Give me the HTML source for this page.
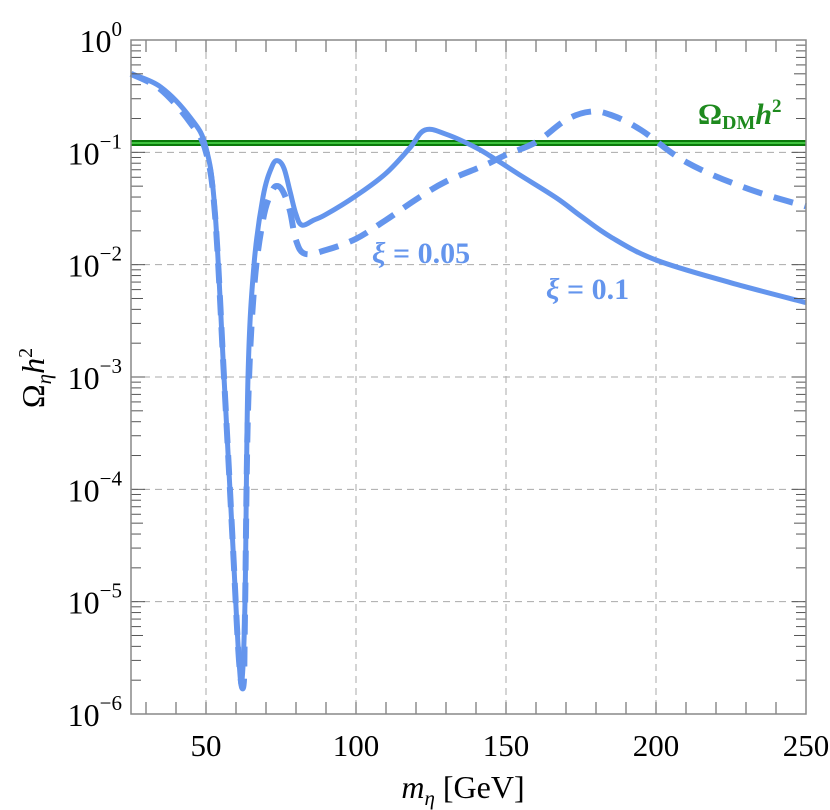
<!DOCTYPE html>
<html><head><meta charset="utf-8"><style>
body{margin:0;background:#fff}
svg{display:block}
text{font-family:"Liberation Serif","DejaVu Serif",serif}
</style></head><body>
<svg id="chart" width="830" height="810" viewBox="0 0 830 810" xmlns="http://www.w3.org/2000/svg">
<g id="grid"></g>
<g id="series"></g>
<g id="axes"></g>
<text x="372" y="263" font-size="30" font-weight="bold" fill="#6495ed" font-style="italic">ξ <tspan font-style="normal">= 0.05</tspan></text>
<text x="546" y="299" font-size="30" font-weight="bold" fill="#6495ed" font-style="italic">ξ <tspan font-style="normal">= 0.1</tspan></text>
<text x="698" y="124" font-size="30" font-weight="bold" fill="#1e8a1e">Ω<tspan font-size="20" dy="5">DM</tspan><tspan font-style="italic" dy="-5">h</tspan><tspan font-size="19" dy="-12">2</tspan></text>
<text x="463" y="798" font-size="32" text-anchor="middle"><tspan font-style="italic">m</tspan><tspan font-style="italic" font-size="21" dy="7">η</tspan><tspan dy="-7"> [GeV]</tspan></text>
<text transform="translate(44,378) rotate(-90)" font-size="32" text-anchor="middle">Ω<tspan font-style="italic" font-size="21" dy="7">η</tspan><tspan font-style="italic" dy="-7">h</tspan><tspan font-size="20" dy="-12">2</tspan></text>
</svg>
<script>
const solidX=[25,35,45,50,53,56,59,61,62,63,64,66,69,72,74,76,78,80,82,86,90,100,110,118,123,130,140,147,155,167,175,185,200,225,250];
const solidY=[0.5,0.38,0.2,0.11,0.03,0.001,3e-5,3e-6,2e-6,1e-5,1e-3,0.01,0.04,0.075,0.084,0.072,0.045,0.028,0.0225,0.025,0.028,0.041,0.065,0.11,0.158,0.145,0.11,0.085,0.062,0.039,0.027,0.0176,0.011,0.0069,0.0046];
const dashX=[25,35,45,50,53,56,59,61,62.5,63,64,66,69,72,74,76,78,80,83,90,100,110,120,130,143,150,160,170,178,185,195,210,230,250];
const dashY=[0.5,0.36,0.18,0.1,0.028,0.001,3e-5,3e-6,1.8e-6,8e-6,5e-4,0.006,0.025,0.045,0.05,0.043,0.03,0.0165,0.0125,0.0135,0.017,0.025,0.038,0.055,0.077,0.095,0.123,0.194,0.23,0.215,0.158,0.082,0.048,0.033];
const relic=[0.121];
const xTicks=[50,100,150,200,250];
const yExp=[0,-1,-2,-3,-4,-5,-6];
const L=131,R=806,T=40,B=714;
const sx=m=>L+(m-25)*(R-L)/225;
const sy=v=>T+(-Math.log10(v))*(B-T)/6;
const NS='http://www.w3.org/2000/svg';
function mk(p,tag,a){const e=document.createElementNS(NS,tag);for(const k in a)e.setAttribute(k,a[k]);p.appendChild(e);return e;}
const grid=document.getElementById('grid'),axes=document.getElementById('axes'),ser=document.getElementById('series');
xTicks.forEach(t=>{if(t<250){const l=mk(grid,'line',{x1:sx(t),x2:sx(t),y1:T,y2:B,stroke:'#aaa','stroke-width':1,'stroke-dasharray':'7,5'});

}
const tx=mk(axes,'text',{x:sx(t),y:B+42,'font-size':31,'text-anchor':'middle'});tx.textContent=t;

});
for(let m=30;m<250;m+=10){[[B,B-12],[T,T+12]].forEach(([a,b])=>{const l=mk(axes,'line',{x1:sx(m),x2:sx(m),y1:a,y2:b,stroke:'#555','stroke-width':1});

});}
yExp.forEach(e=>{const y=sy(Math.pow(10,e));
if(e<0&&e>-6){const l=mk(grid,'line',{x1:L,x2:R,y1:y,y2:y,stroke:'#aaa','stroke-width':1,'stroke-dasharray':'7,5'});

}
const tx=mk(axes,'text',{x:L-9,y:y+12,'font-size':32,'text-anchor':'end'});
tx.innerHTML='10<tspan font-size="21" dy="-16">'+(e===0?'0':'−'+(-e))+'</tspan>';


if(e>-6){for(let k=1;k<10;k++){const yy=sy(k*Math.pow(10,e-1));const len=k===1?14:(k===5?12:10);
[[L,L+len],[R,R-len]].forEach(([a,b])=>{const l=mk(axes,'line',{x1:a,x2:b,y1:yy,y2:yy,stroke:'#555','stroke-width':1});

});}}});
const fr=mk(axes,'rect',{x:L,y:T,width:R-L,height:B-T,fill:'none',stroke:'#888','stroke-width':1.5});


const gy=sy(relic[0]);
const g1=mk(ser,'line',{x1:L,x2:R,y1:gy,y2:gy,stroke:'#0a7a0a','stroke-width':6});


const g2=mk(ser,'line',{x1:L,x2:R,y1:gy,y2:gy,stroke:'#3fc43f','stroke-width':2});


function path(xs,ys){const P=xs.map((m,i)=>[sx(m),sy(ys[i])]);let d='M'+P[0][0].toFixed(1)+','+P[0][1].toFixed(1);
for(let i=0;i<P.length-1;i++){const p0=P[Math.max(0,i-1)],p1=P[i],p2=P[i+1],p3=P[Math.min(P.length-1,i+2)];const t=0.35;
const c1=[p1[0]+(p2[0]-p0[0])*t/2,p1[1]+(p2[1]-p0[1])*t/2],c2=[p2[0]-(p3[0]-p1[0])*t/2,p2[1]-(p3[1]-p1[1])*t/2];
d+=' C'+c1.map(v=>v.toFixed(1)).join(',')+' '+c2.map(v=>v.toFixed(1)).join(',')+' '+p2[0].toFixed(1)+','+p2[1].toFixed(1);}return d;}
const pd=mk(ser,'path',{d:path(dashX,dashY),fill:'none',stroke:'#6495ed','stroke-width':6,'stroke-dasharray':'20,12','stroke-linejoin':'round'});


const ps=mk(ser,'path',{d:path(solidX,solidY),fill:'none',stroke:'#6495ed','stroke-width':5,'stroke-linejoin':'round'});


</script>
</body></html>
